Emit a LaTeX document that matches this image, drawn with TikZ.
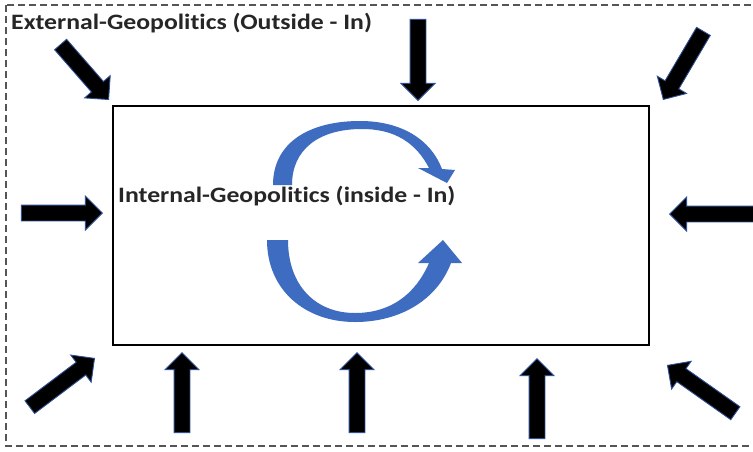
\documentclass[tikz,border=0pt]{standalone}
\usepackage{fontspec}
\setmainfont{Carlito}[RawFeature=-liga]
\newfontfamily\labelfont{Carlito}[FakeStretch=1.17, RawFeature=-liga]
\usetikzlibrary{shapes.arrows}
\definecolor{arcblue}{RGB}{62,108,192}
\definecolor{glow}{RGB}{45,80,150}
\definecolor{dashgray}{RGB}{85,85,85}
\tikzset{
  blockarrow/.style={single arrow, fill=black, draw=glow, line width=0.9pt,
    single arrow head extend=9pt, single arrow tip angle=90,
    inner sep=7.5pt, minimum height=#1, anchor=tip},
  label/.style={anchor=west, inner sep=0pt, font=\labelfont\bfseries\fontsize{22}{24}\selectfont, text=black!85},
  turn/.style={fill=arcblue, draw=none}
}
\begin{document}
\begin{tikzpicture}[x=1pt,y=-1pt]
\useasboundingbox (0,0) rectangle (753,451);
\fill[white] (0,0) rectangle (753,451);
% dashed outer frame
\draw[dashgray, line width=1.3pt, dash pattern=on 7pt off 4pt] (6,5) rectangle (757,446);
% inner rectangle
\draw[black, line width=1.8pt] (113,106) rectangle (649,345);
% labels
\node[label] (ext) at (11,23) {External-Geopolitics (Outside - In)};
% circular arrows
\path[turn] (273,185) .. controls (273,142) and (310,121) .. (360,121)
  .. controls (402,121) and (431,140) .. (442,169)
  -- (455,170) -- (447,183) -- (418,168) -- (429,168)
  .. controls (416,143) and (395,129) .. (362,129)
  .. controls (318,129) and (292,150) .. (292,185) -- cycle;
\path[turn] (267,240) .. controls (267,290) and (305,322) .. (355,322)
  .. controls (400,322) and (437,300) .. (451,263)
  -- (462,263) -- (443,240) -- (418,263) -- (429,263)
  .. controls (415,295) and (390,313) .. (355,313)
  .. controls (315,313) and (288,285) .. (288,240) -- cycle;
\node[label] (int) at (118,196) {Internal-Geopolitics (inside - In)};
% block arrows pointing at the rectangle
\node[blockarrow=73pt, rotate=-48.9] (a1) at (109,100) {};
\node[blockarrow=81pt, rotate=-90] (a2) at (418,101) {};
\node[blockarrow=79pt, rotate=-120.5] (a3) at (663,100) {};
\node[blockarrow=81pt, rotate=0] (a4) at (103,213) {};
\node[blockarrow=84pt, rotate=180] (a5) at (669,214) {};
\node[blockarrow=81pt, rotate=37] (a6) at (95,358) {};
\node[blockarrow=80pt, rotate=90] (a7) at (182,352) {};
\node[blockarrow=80pt, rotate=90] (a8) at (357,352) {};
\node[blockarrow=80pt, rotate=90] (a9) at (537,358) {};
\node[blockarrow=83pt, rotate=144.8] (a10) at (667,365) {};
\end{tikzpicture}
\end{document}
